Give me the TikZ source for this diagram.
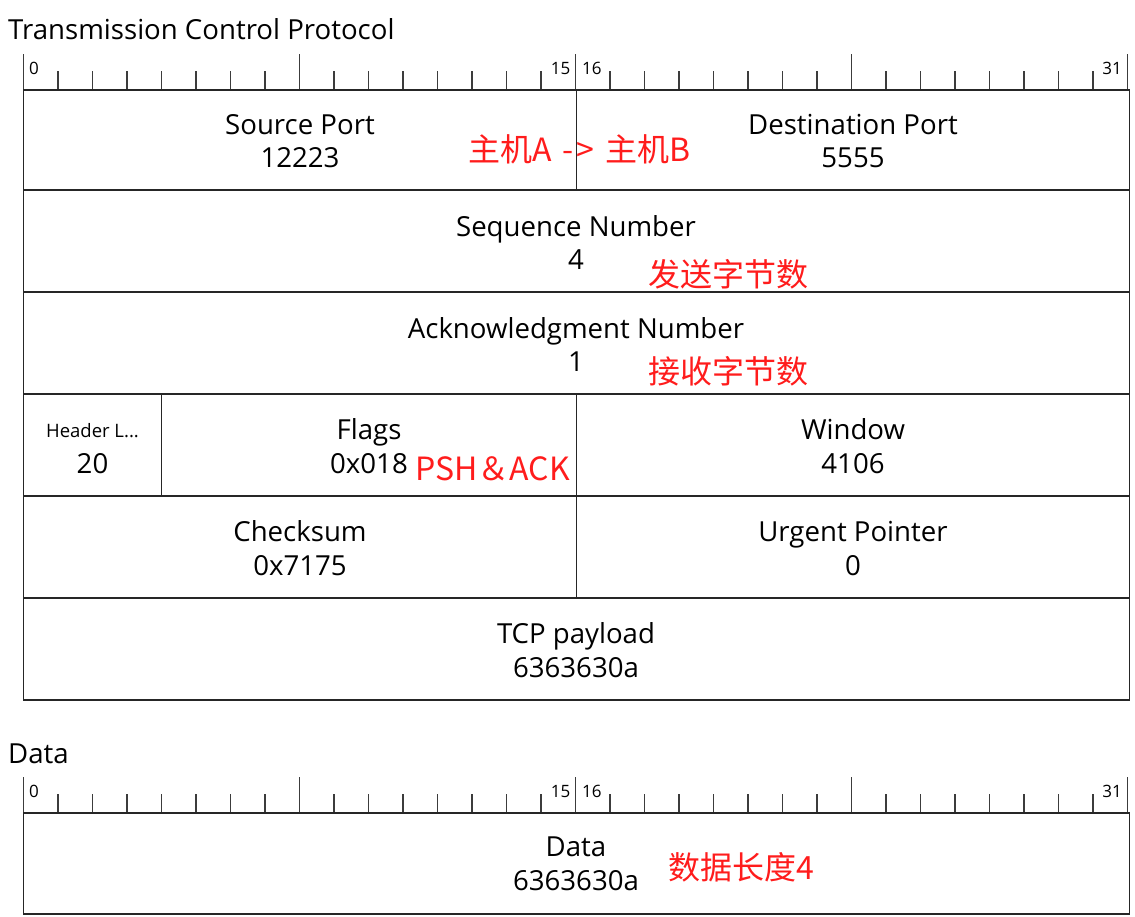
\documentclass[tikz,border=0pt]{standalone}
\usepackage{fontspec}
\setmainfont{Open Sans}
\newfontfamily\cjk{Noto Sans CJK SC}
\definecolor{redtxt}{RGB}{255,28,28}
\definecolor{linec}{RGB}{38,38,38}
\begin{document}
\begin{tikzpicture}[x=1pt,y=-1pt,
  frame/.style={draw=linec, line width=1.5pt},
  tickmark/.style={draw=linec!90, line width=1.5pt},
  lbl/.style={inner sep=0pt, anchor=base, font=\fontsize{27.6}{27.6}\selectfont},
  smalllbl/.style={inner sep=0pt, anchor=base, font=\fontsize{18.5}{18.5}\selectfont},
  rul/.style={inner sep=0pt, font=\fontsize{17}{17}\selectfont},
  note/.style={inner sep=0pt, anchor=base west, text=redtxt, font=\cjk\fontsize{32}{32}\selectfont},
  ttl/.style={inner sep=0pt, anchor=base west, font=\fontsize{27.6}{27.6}\selectfont}]
\useasboundingbox[fill=white] (0,0) rectangle (1135,916);

% titles
\node[ttl] (t1) at (8,39) {Transmission Control Protocol};
\node[ttl] (t2) at (8,763) {Data};

% rulers
\foreach \oy/\nm in {0/a,723/b} {
  \foreach \i in {1,...,31} {\draw[tickmark] ({23.5+34.5*\i},{71+\oy}) -- ({23.5+34.5*\i},{90+\oy});}
  \foreach \i in {0,8,16,24,32} {\draw[tickmark] ({23.5+34.5*\i},{54+\oy}) -- ({23.5+34.5*\i},{90+\oy});}
  \node[rul, anchor=base west] (r0\nm) at (29,{74+\oy}) {0};
  \node[rul, anchor=base east] (r15\nm) at (570.5,{74+\oy}) {15};
  \node[rul, anchor=base west] (r16\nm) at (582,{74+\oy}) {16};
  \node[rul, anchor=base east] (r31\nm) at (1122,{74+\oy}) {31};
}

% TCP header frame
\draw[frame] (23.5,90) rectangle (1129.5,700);
\foreach \y in {190,292,394,496,598} {\draw[frame] (23.5,\y) -- (1129.5,\y);}
\draw[frame] (576.5,90) -- (576.5,190);
\draw[frame] (576.5,394) -- (576.5,598);
\draw[frame] (161.5,394) -- (161.5,496);

% Data frame
\draw[frame] (23.5,813) rectangle (1129.5,914);

% field texts
\node[lbl] (sp) at (300,134) {Source Port};
\node[lbl] (spv) at (300,167) {12223};
\node[lbl] (dp) at (853,134) {Destination Port};
\node[lbl] (dpv) at (853,167) {5555};
\node[lbl] (sn) at (576,236) {Sequence Number};
\node[lbl] (snv) at (576,269) {4};
\node[lbl] (an) at (576,338) {Acknowledgment Number};
\node[lbl] (anv) at (576,371) {1};
\node[smalllbl] (hl) at (92.5,437) {Header L...};
\node[lbl] (hlv) at (92.5,473) {20};
\node[lbl] (fl) at (369,439) {Flags};
\node[lbl] (flv) at (369,473) {0x018};
\node[lbl] (wn) at (853,439) {Window};
\node[lbl] (wnv) at (853,473) {4106};
\node[lbl] (cs) at (300,541) {Checksum};
\node[lbl] (csv) at (300,575) {0x7175};
\node[lbl] (up) at (853,541) {Urgent Pointer};
\node[lbl] (upv) at (853,575) {0};
\node[lbl] (pl) at (576,643) {TCP payload};
\node[lbl] (plv) at (576,677) {6363630a};
\node[lbl] (dt) at (576,856) {Data};
\node[lbl] (dtv) at (576,890) {6363630a};

% red annotations
\node[note] (n1) at (468,161) {主机A\hspace{11pt}-\hspace{3pt}>\hspace{11pt}主机B};
\node[note] (n2) at (648,286) {发送字节数};
\node[note] (n3) at (648,383) {接收字节数};
\node[note] (n4) at (415,480) {PSH＆ACK};
\node[note] (n5) at (668,879) {数据长度4};
\end{tikzpicture}
\end{document}
